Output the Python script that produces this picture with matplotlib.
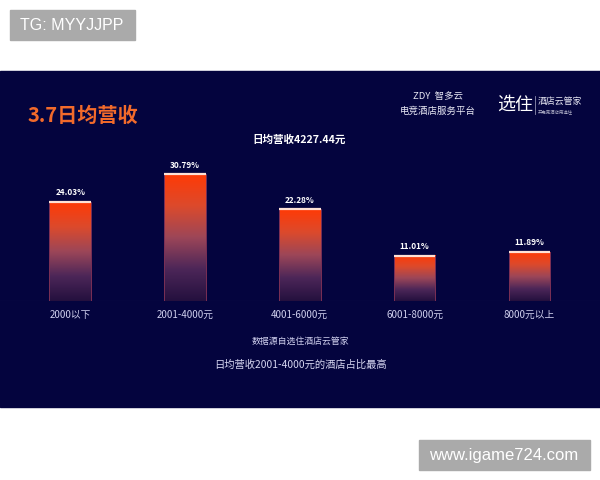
import matplotlib
matplotlib.use("Agg")
import matplotlib.pyplot as plt
import numpy as np
from matplotlib.colors import LinearSegmentedColormap
from matplotlib.patches import Rectangle

plt.rcParams['font.family'] = ['Noto Sans CJK SC', 'DejaVu Sans']

# data
categories = ['2000以下', '2001-4000元', '4001-6000元', '6001-8000元', '8000元以上']
shares = [24.03, 30.79, 22.28, 11.01, 11.89]
labels = ['24.03%', '30.79%', '22.28%', '11.01%', '11.89%']

title = '3.7日均营收'
subtitle = '日均营收4227.44元'
source = '数据源自选住酒店云管家'
note = '日均营收2001-4000元的酒店占比最高'

panel = '#04043e'
bar_cmap = LinearSegmentedColormap.from_list(
    'bars', [(0.0, '#24103e'), (0.25, '#4c2658'), (0.5, '#9c4658'),
             (0.75, '#dc4a2c'), (1.0, '#ff3a06')])

fig = plt.figure(figsize=(6, 4.8), dpi=100, facecolor='white')

# background layer in pixel coords
bg = fig.add_axes([0, 0, 1, 1])
bg.set_xlim(0, 600)
bg.set_ylim(480, 0)
bg.axis('off')
bg.add_patch(Rectangle((0, 71), 600, 336, color=panel))
bg.add_patch(Rectangle((10, 10), 125, 30, color='#aaaaaa'))
bg.text(20, 25.5, 'TG: MYYJJPP', color='white', fontsize=11.5,
        family='Liberation Sans', ha='left', va='center')
bg.add_patch(Rectangle((419, 440), 171, 30, color='#aaaaaa'))
bg.text(504, 455.5, 'www.igame724.com', color='white', fontsize=12,
        family='Liberation Sans', ha='center', va='center')

bg.text(28, 115, title, color='#f26a2b', fontsize=14.5, fontweight='bold',
        ha='left', va='center')
bg.text(299.5, 140, subtitle, color='white', fontsize=7.6, fontweight='bold',
        ha='center', va='center')

# logos
bg.text(438, 96, 'ZDY  智多云', color='#e8e8f4', fontsize=6.8, ha='center', va='center')
bg.text(437.5, 111, '电竞酒店服务平台', color='#e8e8f4', fontsize=6.8, ha='center', va='center')
bg.text(515, 105, '选住', color='white', fontsize=13, ha='center', va='center')
bg.plot([535, 535], [96, 114], color='#9090b0', lw=0.6)
bg.text(538, 101.5, '酒店云管家', color='#e8e8f4', fontsize=6.4, ha='left', va='center')
bg.text(538, 111.5, '开电竞酒店用选住', color='#b0b0c8', fontsize=3.2, ha='left', va='center')

bg.text(300, 341.5, source, color='#d0d0ee', fontsize=6.4, ha='center', va='center')
bg.text(300.5, 365, note, color='#d8d8f2', fontsize=7.4, ha='center', va='center')

# chart axes
ax = fig.add_axes([0, (480 - 300.7) / 480, 1, 35 * 4.105 / 480])
ax.set_facecolor('none')
x = np.arange(len(categories))
w = 0.3615
grad = np.linspace(0, 1, 256).reshape(-1, 1)
for xi, v in zip(x, shares):
    ax.imshow(grad, extent=(xi - w / 2, xi + w / 2, 0, v), origin='lower',
              aspect='auto', cmap=bar_cmap, zorder=2)
ax.bar(x, shares, width=w, fill=False, edgecolor='#7a2f55', linewidth=0.7, zorder=3)
ax.hlines(shares, x - w / 2, x + w / 2, color='#ffe2d6', linewidth=1.6, zorder=4)
for xi, v, lab in zip(x, shares, labels):
    ax.text(xi, v + 2.25, lab, color='white', fontsize=5.9, fontweight='bold',
            ha='center', va='center')
ax.axhline(0, color='#1c1c5e', linewidth=0.8, zorder=1)

ax.set_xlim(-70.2 / 114.8, (600 - 70.2) / 114.8)
ax.set_ylim(0, 35)
ax.set_xticks(x)
ax.set_xticklabels(categories, fontsize=7, color='#d0d0ee')
ax.tick_params(axis='x', length=0, pad=6.5)
ax.set_yticks([])
for s in ax.spines.values():
    s.set_visible(False)

fig.savefig('out.png', dpi=100, facecolor='white')
